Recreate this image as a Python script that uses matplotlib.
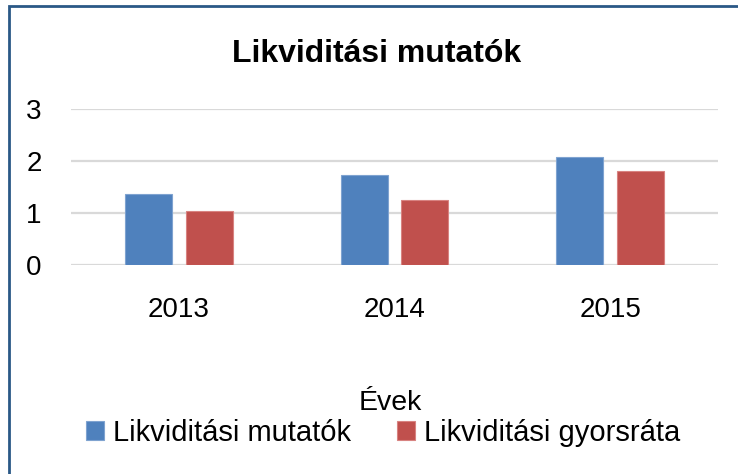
import numpy as np
import matplotlib
matplotlib.use("Agg")
import matplotlib.pyplot as plt
from matplotlib.patches import Rectangle

# ===================== 数据 =====================
years = ["2013", "2014", "2015"]
mutatok = [1.37, 1.73, 2.08]       # Likviditási mutatók
gyorsrata = [1.04, 1.26, 1.81]     # Likviditási gyorsráta
y_ticks = [0, 1, 2, 3]

BLUE = "#4F81BD"
RED = "#C0504D"
GRID = "#D9D9D9"

plt.rcParams['font.family'] = ['Liberation Sans', 'DejaVu Sans']

fig = plt.figure(figsize=(7.38, 4.74), dpi=100)
ax = fig.add_axes([71/738, 1-265/474, (718-71)/738, (265-109.3)/474])

x = np.arange(len(years))
w = 0.218
off = 0.141
ax.bar(x - off, mutatok, w, color=BLUE, edgecolor="#7FA3D0", linewidth=0.8,
       label="Likviditási mutatók", zorder=3)
ax.bar(x + off, gyorsrata, w, color=RED, edgecolor="#D88381", linewidth=0.8,
       label="Likviditási gyorsráta", zorder=3)

ax.set_xlim(-0.5, 2.5)
ax.set_ylim(0, 3)
ax.set_yticks(y_ticks)
ax.set_xticks(x)
ax.set_xticklabels(years)
ax.yaxis.grid(True, color=GRID, linewidth=1.6, zorder=0)
ax.set_axisbelow(True)
for s in ax.spines.values():
    s.set_visible(False)
ax.tick_params(axis='both', length=0, labelsize=20, colors="#000000")
ax.tick_params(axis='y', pad=21)
ax.tick_params(axis='x', pad=23)

# 标题、轴标题、图例
fig.text(377/738, 1-62/474, "Likviditási mutatók", fontsize=23, fontweight='bold',
         ha='center', va='baseline')
fig.text(390/738, 1-410/474, "Évek", fontsize=20.5, ha='center', va='baseline')
fig.legend(loc='center', bbox_to_anchor=(383/738, 1-433/474), ncol=2, frameon=False,
           fontsize=21, handlelength=0.62, handleheight=0.62, handletextpad=0.3,
           columnspacing=1.6, borderpad=0)

# 外框（只露出左边和上边）
fig.patches.append(Rectangle((9/738, -0.1), 1.2, 1.1 - 6/474, fill=False,
                             edgecolor="#2A5886", linewidth=2.0,
                             transform=fig.transFigure, figure=fig))

fig.savefig("out.png", dpi=100)
